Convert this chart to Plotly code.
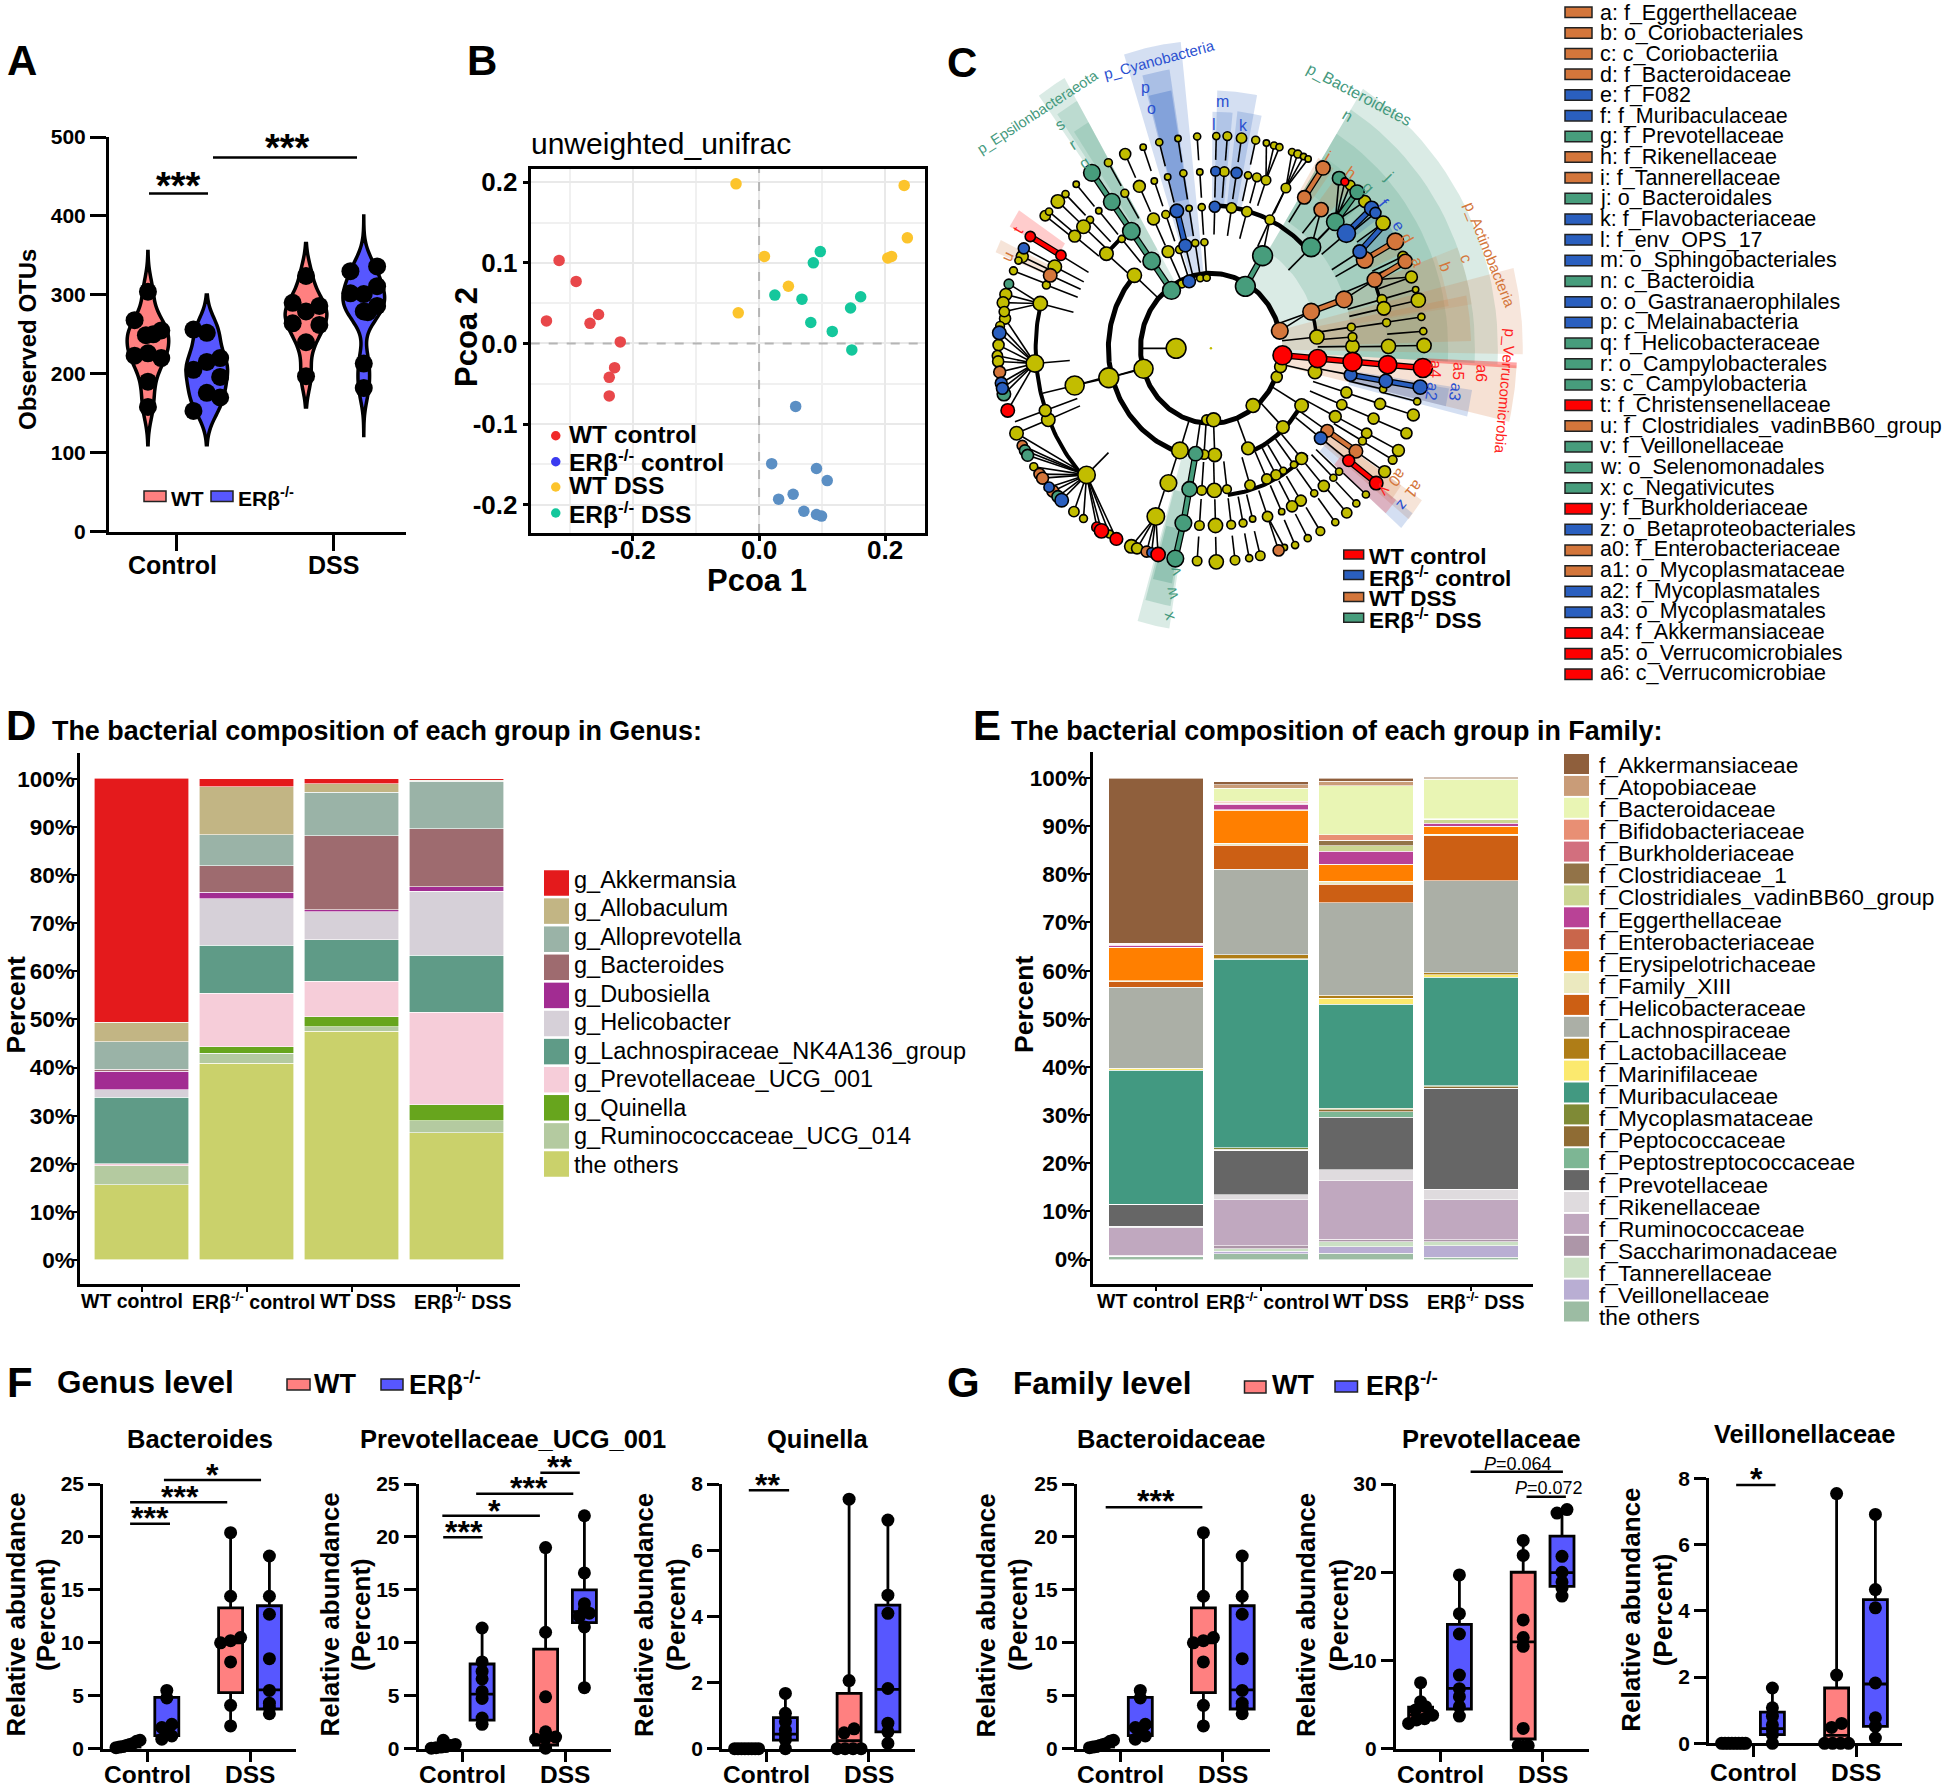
import math
import plotly.graph_objects as go

W, H = 1944, 1789
FONT = "Liberation Sans"
SALMON, BLUE = "#FF8080", "#5757FF"
SUP = "ERβ<sup>-/-</sup>"

# ---------- Panel A ----------
A_WT_CTRL = [304, 268, 255, 249, 250, 223, 226, 220, 190, 158]
A_KO_CTRL = [256, 252, 220, 215, 205, 196, 176, 170, 153]
A_WT_DSS = [324, 290, 286, 279, 264, 262, 240, 197]
A_KO_DSS = [330, 336, 311, 301, 302, 286, 279, 213, 182, 278]
A_SPANS = [[110, 355], [110, 300], [158, 365], [122, 400]]
A_COLS = [[0, -1, 1, -.15, .4, -1, 0, 1, 0, 0], [-1, 0, 1, 0, -1, 1, 0, 1, -1],
          [0, -1, 1, 0, -1, 1, 0, 0], [-1, 1, 1, 0, -1, 1, 0, 0, 0, .3]]

# ---------- Panel B ----------
B_WT_CTRL_X = [-.317, -.29, -.337, -.268, -.2545, -.22, -.229, -.2375, -.2375]
B_WT_CTRL_Y = [.103, .077, .028, .025, .036, .002, -.03, -.042, -.065]
B_WT_DSS_X = [-.0365, .23, .235, .0085, .204, .21, .0465, -.033]
B_WT_DSS_Y = [.198, .196, .131, .108, .106, .108, .071, .038]
B_KO_DSS_X = [.097, .086, .025, .068, .161, .145, .082, .116, .147]
B_KO_DSS_Y = [.114, .1, .06, .055, .058, .044, .026, .015, -.008]
B_KO_CTRL_X = [.058, .02, .091, .108, .054, .031, .071, .091, .099]
B_KO_CTRL_Y = [-.078, -.149, -.155, -.17, -.187, -.193, -.208, -.212, -.214]

# ---------- Panel C ----------
C_Y = [(617,780,50),(532,830,48),(697,955,25),(715,955,35),(818,920,35),(880,850,28),(890,825,30),(680,608,18),(697,607,18),(632,622,20),
 (985,752,36),(980,838,34),(896,973,32),(945,920,34),(805,1025,32),(718,1041,34),(690,1040,24),(627,1030,42),(441,852,50),(508,601,36),(435,548,34),(596,543,30),(626,538,20),(667,522,18),(691,520,18),(475,512,18),
 (1078,775,34),(1078,752,22),(1075,728,20),(1155,660,24),(1160,682,34),(1062,888,28),(1050,918,26),(1033,947,30),(945,1050,30),(925,1065,18),(897,1080,18),(878,1090,26),(854,1100,26),(810,1115,26),(750,1125,22),(717,1128,36),(684,1128,24),(597,1110,42),(352,871,48),(564,1192,44),(558,463,30),(590,452,20),(651,437,16),(684,434,18),(521,383,30),(560,370,16),(483,400,20),(595,360,16),(636,351,18),(679,348,16),(762,436,26),(802,445,26),(862,465,24),(1158,473,36),(1210,555,26),(1232,605,30),
 (1172,775,36),(1167,717,20),(1158,880,18),(1150,916,28),(1133,952,28),(1115,988,26),(1104,1007,20),(1043,1082,18),(1028,1097,18),(1003,1117,28),(978,1135,18),(943,1153,28),(920,1167,28),(893,1180,16),(856,1192,26),(817,1198,16),(792,1208,20),(761,1212,22),(720,1214,36),(678,1214,24),
 (1265,773,36),(1263,738,18),(1258,703,18),(1250,662,36),(1243,636,16),(1247,910,18),(1237,943,30),(1219,988,28),(1198,1030,30),(1183,1053,22),(1162,1082,30),(1113,1138,18),(1088,1160,18),(1063,1183,26),(1033,1206,18),(994,1228,22),(961,1245,18),(928,1262,18),(900,1268,16),(837,1288,24),(808,1294,18),(771,1299,24),(722,1303,36),(672,1301,24),
 (153,772,28),(150,798,26),(152,812,28),(170,707,28),(157,725,22),(172,648,30),(165,668,30),(168,690,26),(275,455,26),(285,445,18),(308,420,34),(328,402,18),(356,378,16),(415,443,16),(392,465,18),(375,482,34),(352,505,30),(300,580,34),(215,555,30),(192,590,20),(205,565,18),(278,625,20),(262,670,36),(248,817,44),
 (283,955,34),(275,932,30),(200,988,34),(245,1070,20),(350,1180,26),(375,1197,20),(443,1235,20),(383,1090,44),(500,1265,34),(515,1270,28),
 (440,325,20),(484,304,28),(531,287,16),(573,275,18),(622,266,16),(672,261,18),(722,260,18),(751,260,22),(788,265,26),(825,270,20),(853,277,16),(873,283,18),(887,287,18),(920,299,18),(935,304,20),(950,310,16),(962,316,16),(743,347,24),(805,356,18),(828,361,22),(852,368,24),(904,387,24),(1072,380,24),(1110,420,30)]
C_R = [(895,797,48),(987,805,46),(1078,813,48),(1170,820,46),(1262,828,48),(1068,1055,30),(1140,1110,34),(570,1285,36),(177,932,34),(236,506,26),(316,552,26),(410,1218,26),(422,1227,36),(461,1247,32),(1058,372,20)]
C_B = [(651,616,32),(641,528,32),(619,443,34),(1073,845,32),(1165,860,34),(1255,875,36),(995,1000,32),(718,433,28),(720,346,24),(775,350,28),(1062,498,46),(1097,543,34),(1128,437,36),(1138,448,28),(553,1280,24),(155,742,34),(160,865,30),(163,878,30),(219,535,28),(285,1120,26),(318,1152,34)]
C_O = [(888,737,42),(970,690,42),(1056,660,42),(1136,612,38),(1216,567,36),(1012,982,32),(1087,1032,34),(1190,518,42),(1110,563,42),(1001,338,36),(952,410,34),(996,440,36),(540,1278,28),(156,838,30),(288,601,34),(215,1018,26),(260,1088,28),(268,1098,30),(295,1130,30),(885,1275,28)]
C_G = [(798,628,50),(843,553,50),(605,638,45),(553,566,44),(500,493,44),(449,421,42),(397,350,42),(970,532,48),(1033,470,44),(1043,363,34),(1090,397,36),(668,1038,36),(652,1125,38),(636,1208,42),(615,1295,42),(180,622,24),(167,892,34),(222,1030,28),(229,1042,30),(308,1143,30)]
C_FANS = [((248,817),[(155,742),(153,772),(150,798),(152,812),(156,838),(160,865),(163,878),(167,892),(177,932),(170,707),(157,725)]),
 ((262,670),[(180,622),(172,648),(165,668),(168,690)]),
 ((383,1090),[(200,988),(215,1018),(222,1030),(229,1042),(245,1070),(260,1088),(268,1098),(285,1120),(295,1130),(308,1143),(318,1152),(350,1180),(375,1197),(410,1218),(422,1227),(443,1235),(461,1247)]),
 ((564,1192),[(500,1265),(515,1270),(540,1278),(553,1280),(570,1285)]),
 ((856,1192),[(885,1275),(900,1268)]),
 ((904,387),[(920,299),(935,304),(950,310),(962,316)]),
 ((1033,470),[(1043,363),(1058,372),(1072,380),(1110,420)]),
 ((852,368),[(853,277),(873,283),(887,287)])]
C_THIN = [[(617,780),(525,780)],[(532,830),(441,852)],[(441,852),(352,871)],[(352,871),(268,890)],[(888,737),(968,690)],
 [(283,955),(200,988)],[(275,932),(196,960)],[(1056,660),(1136,612)],[(1136,612),(1232,605)],[(970,532),(1033,470)],[(970,532),(996,440)],[(843,553),(862,465)],[(862,465),(904,387)]]
C_FAT = {"#479d7c":[[(605,638),(553,566),(500,493),(449,421),(397,350)],[(668,1038),(652,1125),(636,1208),(615,1295)],[(798,628),(843,553)],[(1033,470),(1090,397)]],
 "#ff0000":[[(895,797),(987,805),(1078,813),(1170,820),(1262,828)],[(1068,1055),(1140,1110)],[(236,506),(316,552)]],
 "#2a5fbf":[[(1073,845),(1165,860),(1255,875)],[(619,443),(641,528)],[(1062,498),(1128,437)],[(1097,543),(1158,480)]],
 "#d4763b":[[(970,690),(1056,660)],[(1136,612),(1216,567)],[(1012,982),(1087,1032)],[(1110,563),(1190,518)],[(952,410),(1001,338)]]}
C_ARCS = [(184,12,337,5),(268,138,251,5),(350,44,88,4.5),(274,-68,-30,4.5),(362,-83,-46,4),(458,166,224,4),(458,15,22,3.5),(278,6,19,3.5),(358,131,140,4)]
GRN, BLU, ORG, RED = "68,153,125", "42,95,191", "212,118,59", "255,0,0"
C_WEDGES = [(GRN,.2,58,-3,187,750),(GRN,.2,58,-3,280,690),(GRN,.2,58,-3,370,620),(GRN,.12,58,-3,460,555),
 (ORG,.18,14,-1,187,815),(ORG,.2,11,1.5,279,680),(ORG,.12,21,9,370,690),(ORG,.16,21,9.5,460,630),
 (ORG,.2,59,54,450,545),(ORG,.2,52,47,450,545),(GRN,.2,46,42,460,550),(BLU,.2,40,36,460,555),(BLU,.2,34,29,460,555),(ORG,.2,29,25,460,555),
 (ORG,.22,-3,-13,187,800),(BLU,.2,-8.5,-14,370,690),(BLU,.2,-9,-13,370,630),(RED,.35,-2.5,-3.5,540,800),
 (BLU,.2,107.5,96,190,755),(BLU,.25,105,99,280,692),(BLU,.3,104.7,99.3,370,640),
 (BLU,.2,88.5,79,350,632),(BLU,.2,89.6,84.4,350,580),(BLU,.2,83.2,76.9,350,585),
 (GRN,.2,126,120,180,765),(GRN,.2,125,120,280,700),(GRN,.2,124,120,370,640),
 (GRN,.2,254,261,270,695),(GRN,.25,254.5,260.5,360,640),(GRN,.3,255,260,450,585),
 (RED,.2,150.4,146,460,605),(ORG,.2,157.3,154.2,455,610),
 (ORG,.2,-34,-39,365,665),(BLU,.2,-37.5,-41.5,380,664),(RED,.2,-37.5,-41.5,430,610),(ORG,.2,-34,-38,365,600)]
C_PHYLA = [("p_Cyanobacteria",572,72,-15,"#2a50d0",15),("p_Epsilonbacteraeota",255,200,-33,"#44997d",14.5),("p_Bacteroidetes",1095,160,28,"#44997d",16),
 ("p_Actinobacteria",1437,550,68,"#d4763b",15),("p_Verrucomicrobia",1478,885,95,"#ff2020",15)]
C_LETTERS = [("s",313,232,"#44997d",-33),("r",347,280,"#44997d",-33),("q",378,325,"#44997d",-33),("p",538,140,"#2a50d0",0),("o",552,193,"#2a50d0",0),
 ("m",737,175,"#2a50d0",0),("l",716,232,"#2a50d0",0),("k",792,235,"#2a50d0",0),("n",1065,210,"#44997d",30),("i",1015,310,"#d4763b",30),("h",1073,350,"#d4763b",35),
 ("j",1175,358,"#44997d",45),("g",1120,385,"#44997d",45),("f",1160,425,"#2a50d0",50),("e",1198,480,"#2a50d0",55),("d",1222,510,"#d4763b",60),("a",1247,568,"#d4763b",68),
 ("b",1320,580,"#d4763b",70),("c",1375,560,"#d4763b",70),("a6",1415,840,"#ff2020",92),("a5",1355,835,"#ff2020",92),("a4",1295,830,"#ff2020",92),("a3",1347,888,"#2a50d0",100),("a2",1287,885,"#2a50d0",100),
 ("a0",1195,1098,"#d4763b",130),("a1",1240,1125,"#d4763b",130),("z",1208,1165,"#2a50d0",130),("y",1163,1130,"#ff2020",130),
 ("x",597,1435,"#44997d",-105),("w",605,1380,"#44997d",-105),("v",615,1325,"#44997d",-105),("t",205,490,"#ff2020",-60),("u",176,555,"#d4763b",-65)]
C_LIST = [("a: f_Eggerthellaceae","o"),("b: o_Coriobacteriales","o"),("c: c_Coriobacteriia","o"),("d: f_Bacteroidaceae","o"),("e: f_F082","b"),("f: f_Muribaculaceae","b"),
 ("g: f_Prevotellaceae","g"),("h: f_Rikenellaceae","o"),("i: f_Tannerellaceae","o"),("j: o_Bacteroidales","g"),("k: f_Flavobacteriaceae","b"),("l: f_env_OPS_17","b"),
 ("m: o_Sphingobacteriales","b"),("n: c_Bacteroidia","g"),("o: o_Gastranaerophilales","b"),("p: c_Melainabacteria","b"),("q: f_Helicobacteraceae","g"),("r: o_Campylobacterales","g"),
 ("s: c_Campylobacteria","g"),("t: f_Christensenellaceae","r"),("u: f_Clostridiales_vadinBB60_group","o"),("v: f_Veillonellaceae","g"),("w: o_Selenomonadales","g"),("x: c_Negativicutes","g"),
 ("y: f_Burkholderiaceae","r"),("z: o_Betaproteobacteriales","b"),("a0: f_Enterobacteriaceae","o"),("a1: o_Mycoplasmataceae","o"),("a2: f_Mycoplasmatales","b"),("a3: o_Mycoplasmatales","b"),
 ("a4: f_Akkermansiaceae","r"),("a5: o_Verrucomicrobiales","r"),("a6: c_Verrucomicrobiae","r")]
C_COL = {"o":"#d4763b","b":"#2a5fbf","g":"#479d7c","r":"#ff0000"}

# ---------- Panel D ----------
D_NAMES = ["g_Akkermansia","g_Allobaculum","g_Alloprevotella","g_Bacteroides","g_Dubosiella","g_Helicobacter","g_Lachnospiraceae_NK4A136_group","g_Prevotellaceae_UCG_001","g_Quinella","g_Ruminococcaceae_UCG_014","the others"]
D_COLORS = ["#e41a1c","#c2b584","#9ab3a7","#9e6b6f","#a22c92","#d6d0d8","#5f9b87","#f6cdd9","#67a51d","#b4caa0","#cad16b"]
D_WT_CTRL = [50.7,4.0,5.8,.4,3.8,1.6,13.8,.4,0,4.0,15.6]
D_KO_CTRL = [1.6,10,6.4,5.5,1.4,9.7,9.9,11.2,1.3,2.1,40.9]
D_WT_DSS = [1.0,1.8,9,15.4,.4,5.8,8.7,7.3,2.1,1.0,47.5]
D_KO_DSS = [.24,.26,9.9,12,.9,13.3,11.9,19.2,3.4,2.5,26.4]

# ---------- Panel E ----------
E_NAMES = ["f_Akkermansiaceae","f_Atopobiaceae","f_Bacteroidaceae","f_Bifidobacteriaceae","f_Burkholderiaceae","f_Clostridiaceae_1","f_Clostridiales_vadinBB60_group","f_Eggerthellaceae","f_Enterobacteriaceae","f_Erysipelotrichaceae","f_Family_XIII","f_Helicobacteraceae","f_Lachnospiraceae","f_Lactobacillaceae","f_Marinifilaceae","f_Muribaculaceae","f_Mycoplasmataceae","f_Peptococcaceae","f_Peptostreptococcaceae","f_Prevotellaceae","f_Rikenellaceae","f_Ruminococcaceae","f_Saccharimonadaceae","f_Tannerellaceae","f_Veillonellaceae","the others"]
E_COLORS = ["#8f5f3c","#c99c78","#e9f5b4","#e88f74","#d26f7e","#927348","#cbd592","#b94296","#c9664b","#ff7f00","#ebe9bf","#cc5f14","#abafa6","#af7d17","#fbe96e","#429981","#7f8a36","#8f6c34","#7db694","#666666","#dfdbde","#c0a8bf","#ad96a8","#cbe0c4","#b9aed3","#9cbca3"]
E_WT_CTRL = [34.27,.15,.1,.05,.05,.05,.05,.4,0,7.0,.2,1.1,16.8,.1,.4,27.75,0,.05,0,4.55,.33,5.65,.2,.1,.05,.6]
E_KO_CTRL = [.6,.75,2.7,.3,.1,.1,.1,1.2,.1,6.8,.44,5.0,17.75,.8,.1,39.2,.3,.2,0,9.2,1.06,9.54,.65,.5,.58,1.17]
E_WT_DSS = [.6,1.0,10.1,1.15,.1,1.06,1.2,2.7,.1,3.4,.58,3.84,19.2,.66,1.26,21.6,.35,.35,1.15,10.95,2.25,12.1,.6,1.0,1.33,1.34]
E_KO_DSS = [.35,.05,8.2,.05,.05,.05,.8,.65,.05,1.6,.33,9.35,19.05,.4,.5,22.6,.2,.3,0,20.96,2.17,8.27,.5,.83,2.34,.5]

# ---------- Panels F / G ----------
BAC = {"pts":[[.1,.2,.3,.4,.5,.7,.8,.15],[5.5,4.8,2.3,2.0,1.6,1.2,.9],[20.4,14.4,10.5,10.2,10,8.2,4.1,2.15],[18.2,14.4,12.7,8.5,5.5,4.3,3.3,3.9]],
       "box":[(.15,.3,.5),(1.23,2.08,4.85),(5.3,10,13.3),(3.75,5.55,13.5)]}
PRE = {"pts":[[.05,.1,.15,.2,.3,.4,.8],[11.4,8.2,7.3,6.6,5.4,4.75,2.9,2.3],[19,11,4.9,1.6,1.1,1,.9,.05],[22,16.6,13.7,13.2,12.8,12.5,11.5,5.76]],
       "box":[(.1,.2,.3),(2.7,5.15,8),(.35,1.1,9.4),(11.9,12.95,15)]}
QUI = {"pts":[[0,0,0,0,0,0,0,0],[1.67,1.07,.82,.56,.41,.26,0],[7.54,2.06,.6,.48,0,0,0,0],[6.91,4.64,4.09,1.82,.77,.51,.16]],
       "box":[(0,0,0),(.26,.44,.94),(0,.24,1.67),(.51,1.79,4.34)]}
FPR = {"pts":[[7.48,5.33,4.76,4.4,3.8,3.4,3.25,2.87],[19.7,15.3,13,8.35,6.8,5.9,4.76,3.7],[23.6,21.9,14.6,12.6,11.6,2.3,.35,.35],[27.1,26.7,21.8,20,18.9,18.2,17.3]],
       "box":[(3.3,3.8,4.7),(4.5,6.84,14.1),(1.1,12.1,20),(18.4,19.95,24.1)]}

fig = go.Figure()
layout = {}
shapes, annos = [], []
P = lambda x: x / W
Q = lambda y: 1 - y / H

def txt(x, y, s, size, bold=False, anchor="center", angle=0, color="black", ya="middle"):
    annos.append(dict(x=P(x), y=Q(y), xref="paper", yref="paper", text=f"<b>{s}</b>" if bold else s, showarrow=False,
                      xanchor=anchor, yanchor=ya, textangle=angle, font=dict(family=FONT, size=size, color=color),
                      borderpad=0, align="center"))

def rect(x0, y0, x1, y1, fill, lw=1.5):
    shapes.append(dict(type="rect", xref="paper", yref="paper", x0=P(x0), x1=P(x1), y0=Q(y0), y1=Q(y1), fillcolor=fill,
                       line=dict(color="#222" if lw else fill, width=lw)))

def hline(x0, x1, y, lw=2.5):
    shapes.append(dict(type="line", xref="paper", yref="paper", x0=P(x0), x1=P(x1), y0=Q(y), y1=Q(y), line=dict(color="black", width=lw)))

def stars(x, y, s, size=32):
    txt(x, y + size * .07, s, size, True)

def axes(i, box, xr, yr, **kw):
    l, t, r, b = box
    ax = dict(showline=True, linecolor="black", linewidth=3, showgrid=False, zeroline=False, ticks="outside", tickcolor="black", tickwidth=3, color="black", automargin=False)
    x = dict(ax, domain=[P(l), P(r)], range=xr, anchor=f"y{i}", fixedrange=True)
    y = dict(ax, domain=[Q(b), Q(t)], range=yr, anchor=f"x{i}", fixedrange=True)
    x.update(kw.get("x", {})); y.update(kw.get("y", {}))
    layout[f"xaxis{i}"] = x; layout[f"yaxis{i}"] = y

BF = lambda s: dict(family=FONT, size=s, color="black", weight="bold")

# ---- Panel A
axes(1, (109, 137, 406, 531.7), [.567, 2.459], [0, 500],
     x=dict(tickvals=[1, 2], showticklabels=False, ticklen=16),
     y=dict(tickvals=[0, 100, 200, 300, 400, 500], tickfont=BF(21), ticklen=16))
txt(172, 565, "Control", 25, True); txt(333, 565, "DSS", 25, True)
A_POS = [.815, 1.19, 1.822, 2.19]
for vals, span, pos, col, cols in zip([A_WT_CTRL, A_KO_CTRL, A_WT_DSS, A_KO_DSS], A_SPANS, A_POS, [SALMON, BLUE, SALMON, BLUE], A_COLS):
    fig.add_trace(go.Violin(y=vals, x0=pos, width=.265, bandwidth=19, spanmode="manual", span=span, points=False, fillcolor=col,
                            line=dict(color="black", width=3.5), xaxis="x1", yaxis="y1", showlegend=False, hoverinfo="skip", box_visible=False, meanline_visible=False))
    fig.add_trace(go.Scatter(x=[pos + c * .085 for c in cols], y=vals, mode="markers", marker=dict(color="black", size=18), xaxis="x1", yaxis="y1",
                             showlegend=False, cliponaxis=False, hoverinfo="skip"))
hline(149, 208, 193.4); hline(213, 357, 157.4)
stars(178, 183, "***", 38); stars(287, 145.6, "***", 38)
rect(144, 491, 166, 501.5, SALMON); rect(211, 491, 233, 501.5, BLUE)
txt(170, 498, "WT", 21, True, "left"); txt(237, 497, SUP, 21, True, "left")
txt(28, 340, "Observed OTUs", 24, True, angle=-90)

# ---- Panel B
axes(2, (530.7, 168.5, 925, 533), [-.362, .263], [-.235, .217],
     x=dict(tickvals=[-.2, 0, .2], showticklabels=False, ticklen=5, mirror=True, showgrid=True, gridcolor="#e9e9e9", gridwidth=2,
            minor=dict(tickvals=[-.3, -.1, .1], showgrid=True, gridcolor="#f0f0f0", gridwidth=1.5, ticklen=0)),
     y=dict(tickvals=[-.2, -.1, 0, .1, .2], ticktext=["-0.2", "-0.1", "0.0", "0.1", "0.2"], tickfont=BF(26), ticklen=5, mirror=True, showgrid=True, gridcolor="#e9e9e9", gridwidth=2,
            minor=dict(tickvals=[-.15, -.05, .05, .15], showgrid=True, gridcolor="#f0f0f0", gridwidth=1.5, ticklen=0)))
for x, t in [(633, "-0.2"), (759, "0.0"), (885, "0.2")]:
    txt(x, 550, t, 26, True)
fig.add_trace(go.Scatter(x=[-.362, .263, None, 0, 0], y=[0, 0, None, -.235, .217], mode="lines", line=dict(color="#b5b5b5", width=2, dash="dash"), xaxis="x2", yaxis="y2", showlegend=False, hoverinfo="skip"))
for xs, ys, col in [(B_WT_CTRL_X, B_WT_CTRL_Y, "#e8474a"), (B_WT_DSS_X, B_WT_DSS_Y, "#fcc42c"), (B_KO_DSS_X, B_KO_DSS_Y, "#14c79c"), (B_KO_CTRL_X, B_KO_CTRL_Y, "#5b8fc4")]:
    fig.add_trace(go.Scatter(x=xs, y=ys, mode="markers", marker=dict(color=col, size=11.5), xaxis="x2", yaxis="y2", showlegend=False, hoverinfo="skip"))
for y, col, t in [(435.7, "#f02a2a", "WT control"), (461.7, "#3a3af0", SUP + " control"), (487, "#fcc42c", "WT DSS"), (513, "#14c79c", SUP + " DSS")]:
    shapes.append(dict(type="circle", xref="paper", yref="paper", x0=P(551), x1=P(560.5), y0=Q(y + 4.7), y1=Q(y - 4.7), fillcolor=col, line=dict(width=0)))
    txt(567.7, y - 1, t, 24.5, True, "left")
txt(530, 144, "unweighted_unifrac", 30, False, "left")
txt(757, 580, "Pcoa 1", 31, True)
txt(466, 337, "Pcoa 2", 31, True, angle=-90)

# ---- Panel C
axes(3, (940, 30, 1540, 670), [0, 1568], [1568, 0], x=dict(visible=False), y=dict(visible=False))
CX, CY = 708, 780
def polar(r, a):
    return CX + r * math.cos(math.radians(a)), CY - r * math.sin(math.radians(a))
for rgb, al, a0, a1, r0, r1 in C_WEDGES:
    n = 24
    angs = [a0 + (a1 - a0) * k / n for k in range(n + 1)]
    pts = [polar(r1, a) for a in angs] + [polar(r0, a) for a in reversed(angs)]
    fig.add_trace(go.Scatter(x=[p[0] for p in pts], y=[p[1] for p in pts], mode="lines", fill="toself", fillcolor=f"rgba({rgb},{al})", line=dict(width=0),
                             xaxis="x3", yaxis="y3", showlegend=False, hoverinfo="skip"))
fan_tips = {t for _, ts in C_FANS for t in ts}
ex, ey = [], []
for par, ts in C_FANS:
    for t in ts:
        ex += [par[0], t[0], None]; ey += [par[1], t[1], None]
for seg in C_THIN:
    ex += [seg[0][0], seg[1][0], None]; ey += [seg[0][1], seg[1][1], None]
RINGS = [187, 279, 370, 462, 554]
for lst in (C_Y, C_R, C_B, C_O, C_G):
    for x, y, d in lst:
        if (x, y) in fan_tips:
            continue
        r = math.hypot(x - CX, y - CY)
        if r < 210:
            continue
        par = max(q for q in RINGS if q < r - 25)
        ex += [x, CX + (x - CX) * par / r, None]; ey += [y, CY + (y - CY) * par / r, None]
fig.add_trace(go.Scatter(x=ex, y=ey, mode="lines", line=dict(color="black", width=1.6), xaxis="x3", yaxis="y3", showlegend=False, hoverinfo="skip"))
for r, a0, a1, lw in C_ARCS:
    n = max(6, int(abs(a1 - a0)))
    pts = [polar(r, a0 + (a1 - a0) * k / n) for k in range(n + 1)]
    fig.add_trace(go.Scatter(x=[p[0] for p in pts], y=[p[1] for p in pts], mode="lines", line=dict(color="black", width=lw), xaxis="x3", yaxis="y3", showlegend=False, hoverinfo="skip"))
for col, paths in C_FAT.items():
    for path in paths:
        xs, ys = [p[0] for p in path], [p[1] for p in path]
        fig.add_trace(go.Scatter(x=xs, y=ys, mode="lines", line=dict(color="black", width=6.5), xaxis="x3", yaxis="y3", showlegend=False, hoverinfo="skip"))
        fig.add_trace(go.Scatter(x=xs, y=ys, mode="lines", line=dict(color=col, width=4), xaxis="x3", yaxis="y3", showlegend=False, hoverinfo="skip"))
for lst, col in [(C_Y, "#c2bd00"), (C_O, "#d4763b"), (C_G, "#479d7c"), (C_B, "#2a5fbf"), (C_R, "#ff0000")]:
    fig.add_trace(go.Scatter(x=[n[0] for n in lst], y=[n[1] for n in lst], mode="markers", xaxis="x3", yaxis="y3", showlegend=False, hoverinfo="skip", cliponaxis=False,
                             marker=dict(color=col, opacity=1, size=[n[2] / 2.53 for n in lst], line=dict(color="black", width=1.6))))
fig.add_trace(go.Scatter(x=[CX], y=[CY], mode="markers", marker=dict(color="#c2bd00", size=2.5), xaxis="x3", yaxis="y3", showlegend=False, hoverinfo="skip"))
cpx = lambda xz: 940 + xz / 2.613
cpy = lambda yz: 30 + yz / 2.45
for t, x, y, ang, col, sz in C_PHYLA:
    txt(cpx(x), cpy(y), t, sz, False, angle=ang, color=col)
for t, x, y, col, ang in C_LETTERS:
    txt(cpx(x), cpy(y), t, 16, False, angle=ang, color=col)
for y, col, t in [(1285, "#ff0000", "WT control"), (1335, "#2a5fbf", SUP + " control"), (1389, "#d4763b", "WT DSS"), (1440, "#479d7c", SUP + " DSS")]:
    rect(cpx(1055), cpy(y - 11), cpx(1107), cpy(y + 11), col, 1.5)
    txt(cpx(1118), cpy(y + 4), t, 22.5, True, "left")
for k, (t, c) in enumerate(C_LIST):
    rect(1565, 12 + k * 20.69 - 5, 1592, 12 + k * 20.69 + 5.5, C_COL[c], 1.5)
    txt(1599, 12.6 + k * 20.65, t, 21.5, False, "left")

# ---- Panels D / E
def stacked(i, box, xr, names, colors, groups, lg_x, lg_text_x, sw_y0, sw_dy, lg_h, tx_y0, tx_dy, lg_size):
    axes(i, box, xr, [-5, 105.4],
         x=dict(tickvals=[0, 1, 2, 3], showticklabels=False, ticklen=5, linewidth=2.5, tickwidth=2),
         y=dict(tickvals=list(range(0, 101, 10)), ticktext=[f"{v}%" for v in range(0, 101, 10)], tickfont=BF(22.5), ticklen=4, linewidth=2.5, tickwidth=2, ticklabelstandoff=-6))
    for k in reversed(range(len(names))):
        fig.add_trace(go.Bar(x=[0, 1, 2, 3], y=[g[k] for g in groups], width=.9, marker=dict(color=colors[k], line=dict(color="rgba(255,255,255,.75)", width=.8)),
                             xaxis=f"x{i}", yaxis=f"y{i}", showlegend=False, hoverinfo="skip"))
    for k, (n, c) in enumerate(zip(names, colors)):
        y = sw_y0 + k * sw_dy
        rect(lg_x, y - lg_h / 2, lg_x + 25, y + lg_h / 2, c, 0)
        txt(lg_text_x, tx_y0 + k * tx_dy, n, lg_size, False, "left")

stacked(4, (80, 753, 520, 1284), [-.587, 3.604], D_NAMES, D_COLORS, [D_WT_CTRL, D_KO_CTRL, D_WT_DSS, D_KO_DSS], 544, 573, 883, 28.1, 25.5, 880, 28.45, 23.5)
stacked(5, (1092.5, 752, 1533, 1283.7), [-.603, 3.592], E_NAMES, E_COLORS, [E_WT_CTRL, E_KO_CTRL, E_WT_DSS, E_KO_DSS], 1564, 1598, 764, 21.9, 20, 765, 22.08, 22.7)
for x, t in [(132, "WT control"), (254, SUP + " control"), (358, "WT DSS"), (462, SUP + " DSS")]:
    txt(x, 1301, t, 19.5, True)
for x, t in [(1148, "WT control"), (1267, SUP + " control"), (1371, "WT DSS"), (1475, SUP + " DSS")]:
    txt(x, 1300.6, t, 19.5, True)
txt(15.5, 1005, "Percent", 26.5, True, angle=-90); txt(1024, 1005, "Percent", 26.5, True, angle=-90)
txt(51, 731, "The bacterial composition of each group in Genus:", 26.9, True, "left")
txt(1009.5, 731, "The bacterial composition of each group in Family:", 26.9, True, "left")

# ---- Panels F / G
def spread(vals, px_per):
    order = sorted(range(len(vals)), key=lambda j: vals[j])
    off = [0] * len(vals)
    k = 0
    while k < len(order):
        m = k
        while m + 1 < len(order) and (vals[order[m + 1]] - vals[order[m]]) * px_per < 4:
            m += 1
        c = m - k + 1
        half = min(12, (c - 1) * 5)
        for q, j in enumerate(order[k:m + 1]):
            off[j] = -half + 2 * half * q / (c - 1) if c > 1 else 0
        k = m + 1
    return off

def boxpanel(i, ax_x, ax_r, tick1, tick2, top, bot, ymax, yticks, d, title, title_xy, lab_x1, lab_x2, lab_y, tick_y):
    unit = tick2 - tick1
    xr = [1 + (ax_x - tick1) / unit, 1 + (ax_r - tick1) / unit]
    axes(i, (ax_x, top, ax_r, bot), xr, [0, ymax],
         x=dict(tickvals=[1, 2], showticklabels=False, ticklen=11, linewidth=2.5, tickwidth=2.5),
         y=dict(tickvals=yticks, tickfont=BF(21), ticklen=12, linewidth=2.5, tickwidth=2.5))
    txt(tick1, tick_y, "Control", 24.5, True); txt(tick2, tick_y, "DSS", 24.5, True)
    ppu = (bot - top) / ymax
    dx = 19.4 / unit
    centers = [1 - dx, 1 + dx, 2 - dx, 2 + dx]
    for c, col, pts, (q1, med, q3) in zip(centers, [SALMON, BLUE, SALMON, BLUE], d["pts"], d["box"]):
        fig.add_trace(go.Box(x=[c], q1=[q1], median=[med], q3=[q3], lowerfence=[min(pts)], upperfence=[max(pts)], width=24 / unit, whiskerwidth=0, fillcolor=col,
                             line=dict(color="black", width=2.8), boxpoints=False, xaxis=f"x{i}", yaxis=f"y{i}", showlegend=False, hoverinfo="skip"))
        off = spread(pts, ppu)
        fig.add_trace(go.Scatter(x=[c + o / unit for o in off], y=pts, mode="markers", marker=dict(color="black", size=13), xaxis=f"x{i}", yaxis=f"y{i}",
                                 showlegend=False, cliponaxis=False, hoverinfo="skip"))
    txt(title_xy[0], title_xy[1], title, 25.5, True)
    txt(lab_x1, lab_y, "Relative abundance", 26, True, angle=-90)
    txt(lab_x2, lab_y, "(Percent)", 26, True, angle=-90)

boxpanel(6, 103, 296, 147.4, 250, 1484, 1748.7, 25, [0, 5, 10, 15, 20, 25], BAC, "Bacteroides", (199.5, 1439), 15.5, 46, 1615, 1774.5)
boxpanel(7, 418.5, 611.4, 462.7, 565, 1484, 1748.7, 25, [0, 5, 10, 15, 20, 25], PRE, "Prevotellaceae_UCG_001", (513, 1439), 329.6, 361, 1615, 1774.5)
boxpanel(8, 722, 915, 766, 868.5, 1484, 1748.7, 8, [0, 2, 4, 6, 8], QUI, "Quinella", (817, 1439), 644, 676, 1615, 1774.5)
boxpanel(9, 1076.6, 1269.6, 1120.9, 1222.8, 1484, 1748.7, 25, [0, 5, 10, 15, 20, 25], BAC, "Bacteroidaceae", (1171.6, 1439), 986.4, 1018, 1615, 1774.5)
boxpanel(10, 1395.6, 1589, 1440, 1542.6, 1484, 1748.7, 30, [0, 10, 20, 30], FPR, "Prevotellaceae", (1491.8, 1439), 1306, 1338.5, 1615, 1774.5)
boxpanel(11, 1709, 1901.8, 1753, 1856, 1478.3, 1743.3, 8, [0, 2, 4, 6, 8], QUI, "Veillonellaceae", (1804, 1434), 1630.7, 1663.3, 1610, 1772.7)

SX, SY = 2.306, 3
def zline(ox, x0, x1, yz, sx=SX):
    hline(ox + x0 / sx, ox + x1 / sx, 1350 + yz / SY)
def zstar(ox, x, yz, s, sx=SX):
    stars(ox + x / sx, 1350 + yz / SY, s)
for a, b, y, sx_, ys_, s in [(300, 392, 521, 345, 497, "***"), (300, 524, 457, 416, 435, "***"), (378, 602, 390, 490, 368, "*"),
                             (1022, 1113, 562, 1070, 538, "***"), (1020, 1245, 497, 1140, 475, "*"), (1098, 1322, 431, 1220, 408, "***"), (1246, 1337, 368, 1290, 345, "**")]:
    zline(0, a, b, y); zstar(0, sx_, ys_, s)
zline(620, 297, 390, 421); zstar(620, 340, 398, "**")
zline(620, 1120, 1343, 472); zstar(620, 1237, 445, "***")
zline(1280, 1077, 1170, 405, 2.361); zstar(1280, 1125, 380, "*", 2.361)
zline(1280, 450, 668, 365, 2.361); zline(1280, 582, 675, 440, 2.361)
txt(1280 + 563 / 2.361, 1350 + 342 / 3, "<i>P</i>=0.064", 18); txt(1280 + 635 / 2.361, 1350 + 415 / 3, "<i>P</i>=0.072", 18)

txt(56, 1382, "Genus level", 31.5, True, "left")
rect(287, 1379, 310, 1390, SALMON); txt(313, 1384, "WT", 27, True, "left")
rect(381, 1379, 403, 1390, BLUE); txt(407.6, 1383, SUP, 27, True, "left")
txt(1011.6, 1383, "Family level", 31.5, True, "left")
rect(1244.5, 1381, 1266, 1393, SALMON); txt(1270.5, 1385, "WT", 27, True, "left")
rect(1335, 1381, 1357.5, 1392, BLUE); txt(1364.7, 1384, SUP, 27, True, "left")

for t, x, y in [("A", 6, 60), ("B", 466, 60), ("C", 946, 62), ("D", 5, 726), ("E", 972, 726), ("F", 6, 1382), ("G", 946, 1382)]:
    txt(x, y, t, 42, True, "left")

fig.update_layout(width=W, height=H, margin=dict(l=0, r=0, t=0, b=0, autoexpand=False), paper_bgcolor="white", plot_bgcolor="white", showlegend=False,
                  barmode="stack", boxmode="overlay", violinmode="overlay", shapes=shapes, annotations=annos, font=dict(family=FONT), **layout)
fig.write_html("out.html", config=dict(displayModeBar=False), post_script="document.body.style.margin='0';document.body.style.overflow='hidden';")
